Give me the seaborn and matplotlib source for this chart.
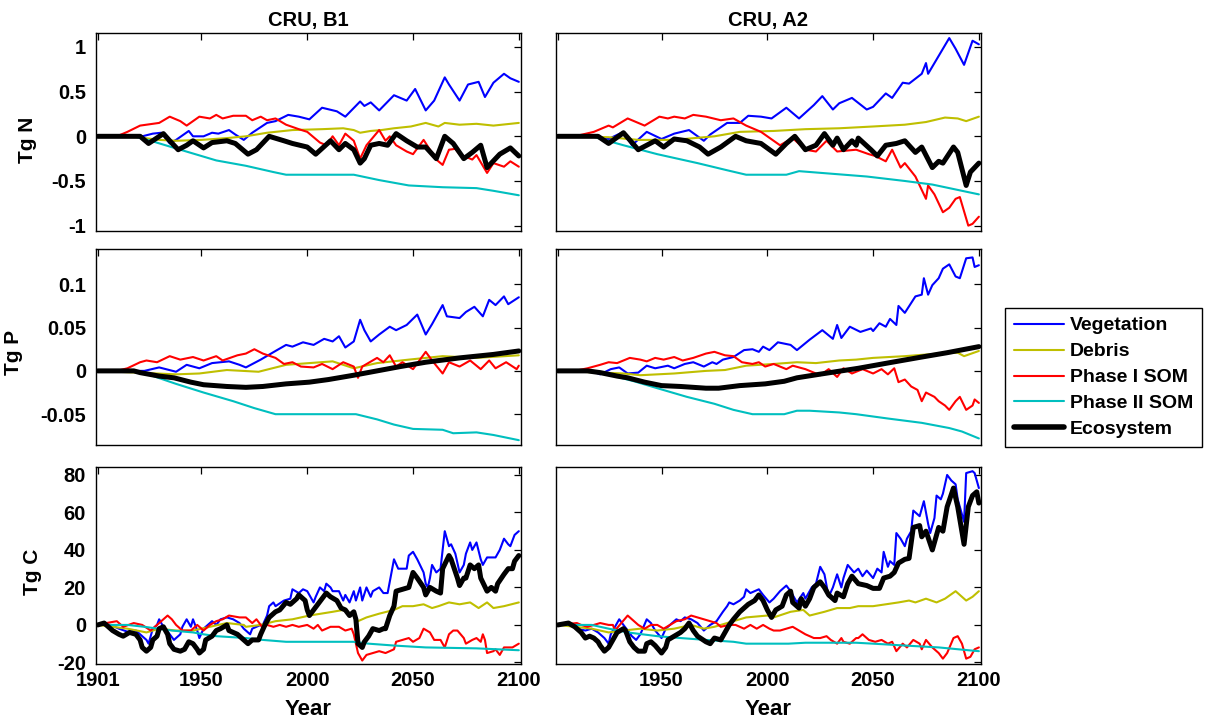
import matplotlib
matplotlib.use("Agg")
import matplotlib.pyplot as plt
import seaborn as sns
from matplotlib.ticker import FixedLocator, FixedFormatter
from matplotlib.lines import Line2D

# ---------------- data ----------------
POOLS = ["Vegetation", "Debris", "Phase I SOM", "Phase II SOM", "Ecosystem"]
COLORS = ["#0000ff", "#bfbf00", "#ff0000", "#00bfbf", "#000000"]
SCENARIOS = ["CRU, B1", "CRU, A2"]
YLABELS = ["Tg N", "Tg P", "Tg C"]
XTICKS = [1901, 1950, 2000, 2050, 2100]

# --- Tg N, B1 ---
NB1_VEG_YR = [1901,1922,1927,1931,1935,1938,1944,1946,1951,1955,1958,1963,1966,1970,1974,1981,1985,1991,1996,2001,2007,2014,2018,2025,2027,2030,2034,2041,2047,2051,2056,2060,2065,2067,2072,2076,2081,2084,2088,2093,2096,2100]
NB1_VEG = [0,0,0.03,0.04,-0.08,-0.04,0.06,0,0,0.04,0.03,0.07,0.02,-0.04,0.04,0.15,0.17,0.24,0.22,0.19,0.32,0.28,0.22,0.39,0.34,0.38,0.29,0.46,0.40,0.53,0.29,0.40,0.66,0.58,0.40,0.58,0.61,0.44,0.60,0.70,0.65,0.61]
NB1_DEB_YR = [1901,1920,1930,1938,1950,1962,1971,1981,1993,2007,2017,2022,2025,2030,2035,2041,2049,2056,2062,2065,2072,2080,2088,2100]
NB1_DEB = [0,-0.01,-0.04,-0.05,-0.04,-0.02,0,0.04,0.07,0.08,0.09,0.07,0.04,0.06,0.07,0.09,0.11,0.15,0.11,0.15,0.13,0.14,0.12,0.15]
NB1_P1_YR = [1901,1910,1915,1921,1930,1935,1940,1943,1949,1954,1957,1960,1965,1971,1974,1978,1981,1985,1990,1996,2000,2006,2009,2012,2015,2018,2022,2025,2028,2034,2037,2039,2042,2047,2050,2055,2061,2064,2067,2070,2072,2078,2080,2085,2088,2093,2096,2100]
NB1_P1 = [0,0,0.05,0.12,0.15,0.22,0.17,0.12,0.22,0.20,0.24,0.20,0.23,0.23,0.18,0.22,0.18,0.20,0.13,0.08,0.05,-0.07,-0.10,0,-0.10,0.03,-0.05,-0.25,-0.10,0.07,-0.05,0,-0.10,-0.17,-0.20,-0.04,-0.26,-0.32,-0.15,-0.14,-0.20,-0.26,-0.21,-0.41,-0.30,-0.34,-0.28,-0.34]
NB1_P2_YR = [1901,1918,1926,1940,1957,1971,1984,1990,2022,2034,2048,2064,2080,2088,2100]
NB1_P2 = [0,0,-0.05,-0.15,-0.27,-0.33,-0.40,-0.43,-0.43,-0.49,-0.55,-0.57,-0.58,-0.61,-0.66]
NB1_ECO_YR = [1901,1921,1925,1932,1935,1939,1943,1946,1951,1955,1962,1966,1972,1976,1982,1989,1993,2000,2004,2011,2015,2018,2022,2025,2027,2030,2034,2038,2042,2047,2052,2056,2061,2065,2069,2074,2078,2082,2085,2091,2096,2100]
NB1_ECO = [0,0,-0.08,0.03,-0.05,-0.15,-0.10,-0.05,-0.13,-0.07,-0.05,-0.08,-0.20,-0.15,0,-0.05,-0.08,-0.12,-0.20,-0.05,-0.15,-0.08,-0.15,-0.30,-0.25,-0.10,-0.08,-0.10,0.03,-0.05,-0.12,-0.12,-0.25,0,-0.08,-0.25,-0.18,-0.10,-0.35,-0.20,-0.13,-0.22]

# --- Tg N, A2 ---
NA2_VEG_YR = [1901,1917,1925,1932,1936,1943,1950,1956,1963,1970,1973,1981,1987,1991,1997,2002,2009,2015,2022,2026,2031,2034,2040,2047,2050,2056,2059,2064,2067,2073,2075,2076,2081,2086,2089,2093,2097,2100]
NA2_VEG = [0,0,-0.03,0.05,-0.10,0.05,-0.03,0.03,0.07,-0.05,0.02,0.15,0.15,0.23,0.22,0.20,0.32,0.20,0.35,0.45,0.30,0.37,0.43,0.30,0.33,0.48,0.43,0.60,0.59,0.70,0.82,0.70,0.90,1.10,0.98,0.80,1.07,1.03]
NA2_DEB_YR = [1901,1925,1939,1956,1975,1987,2003,2018,2034,2050,2065,2075,2084,2090,2094,2100]
NA2_DEB = [0,-0.01,-0.04,-0.04,0,0.05,0.06,0.08,0.09,0.11,0.13,0.16,0.21,0.20,0.17,0.22]
NA2_P1_YR = [1901,1909,1918,1925,1927,1934,1942,1949,1953,1956,1961,1965,1971,1978,1984,1990,1997,2003,2006,2012,2018,2023,2028,2033,2042,2048,2051,2056,2059,2063,2065,2070,2073,2075,2076,2079,2083,2086,2089,2091,2095,2097,2100]
NA2_P1 = [0,0,0.05,0.12,0.10,0.20,0.12,0.22,0.20,0.22,0.20,0.24,0.22,0.18,0.20,0.12,0.05,-0.05,-0.10,-0.02,-0.15,-0.17,-0.05,-0.17,-0.15,-0.20,-0.22,-0.28,-0.15,-0.35,-0.30,-0.45,-0.60,-0.70,-0.55,-0.65,-0.85,-0.80,-0.70,-0.68,-1.00,-0.98,-0.90]
NA2_P2_YR = [1901,1917,1932,1948,1967,1981,1990,2009,2015,2031,2047,2065,2078,2090,2100]
NA2_P2 = [0,0,-0.10,-0.20,-0.30,-0.38,-0.43,-0.43,-0.39,-0.42,-0.45,-0.50,-0.54,-0.60,-0.65]
NA2_ECO_YR = [1901,1920,1925,1932,1939,1943,1947,1951,1956,1962,1968,1972,1978,1985,1990,1997,2004,2009,2013,2018,2023,2027,2031,2033,2036,2040,2042,2043,2049,2052,2056,2061,2065,2070,2073,2078,2081,2083,2088,2090,2094,2096,2100]
NA2_ECO = [0,0,-0.08,0.04,-0.15,-0.10,-0.05,-0.12,-0.03,-0.05,-0.12,-0.20,-0.12,0,-0.05,-0.08,-0.20,-0.08,0,-0.15,-0.10,0.03,-0.10,-0.02,-0.15,-0.05,-0.10,-0.02,-0.15,-0.22,-0.10,-0.08,-0.05,-0.18,-0.12,-0.35,-0.28,-0.30,-0.12,-0.18,-0.55,-0.40,-0.30]

# --- Tg P, B1 ---
PB1_VEG_YR = [1901,1923,1930,1938,1943,1949,1955,1963,1968,1971,1978,1985,1990,1993,1998,2003,2008,2012,2015,2018,2022,2025,2027,2030,2034,2039,2042,2047,2052,2056,2059,2064,2066,2072,2075,2079,2083,2086,2089,2093,2095,2100]
PB1_VEG = [0,0,0.004,-0.001,0.007,0.003,0.009,0.011,0.007,0.004,0.013,0.023,0.030,0.028,0.033,0.030,0.037,0.034,0.040,0.027,0.034,0.059,0.047,0.034,0.042,0.051,0.047,0.053,0.065,0.042,0.054,0.076,0.063,0.061,0.068,0.074,0.063,0.082,0.076,0.086,0.077,0.085]
PB1_DEB_YR = [1901,1938,1949,1962,1977,1990,2001,2012,2022,2033,2048,2064,2080,2100]
PB1_DEB = [0,-0.004,-0.003,0.001,-0.001,0.007,0.009,0.011,0.003,0.009,0.013,0.017,0.015,0.018]
PB1_P1_YR = [1901,1910,1915,1921,1924,1929,1935,1940,1946,1951,1957,1960,1967,1971,1975,1979,1985,1989,1993,1997,2003,2007,2012,2017,2022,2024,2026,2033,2036,2039,2042,2045,2050,2056,2059,2064,2067,2072,2077,2082,2086,2089,2094,2099,2100]
PB1_P1 = [0,0,0.003,0.010,0.012,0.010,0.017,0.013,0.016,0.012,0.017,0.012,0.018,0.020,0.025,0.020,0.015,0.008,0.010,0.005,0.004,0.008,0.002,0.010,0.005,-0.008,0.005,0.015,0.010,0.018,0.005,0.010,0.002,0.022,0.012,-0.003,0.010,0.005,0.012,0.002,0.012,0.003,0.010,0.002,0.006]
PB1_P2_YR = [1901,1918,1926,1938,1951,1965,1975,1985,2023,2033,2041,2050,2064,2069,2080,2088,2100]
PB1_P2 = [0,0,-0.005,-0.015,-0.025,-0.035,-0.043,-0.050,-0.050,-0.056,-0.062,-0.067,-0.068,-0.072,-0.071,-0.074,-0.080]
PB1_ECO_YR = [1901,1918,1921,1930,1937,1945,1951,1962,1971,1979,1990,2001,2010,2022,2033,2044,2056,2072,2088,2100]
PB1_ECO = [0,0,-0.002,-0.006,-0.008,-0.013,-0.016,-0.018,-0.019,-0.018,-0.015,-0.013,-0.010,-0.005,0.000,0.005,0.010,0.015,0.019,0.023]

# --- Tg P, A2 ---
PA2_VEG_YR = [1901,1917,1921,1926,1930,1934,1939,1943,1947,1953,1956,1961,1965,1970,1974,1976,1979,1984,1989,1993,1996,1998,2001,2005,2011,2014,2017,2020,2026,2031,2033,2035,2039,2044,2049,2050,2053,2056,2058,2061,2062,2065,2070,2073,2074,2076,2078,2081,2083,2086,2089,2091,2094,2097,2098,2100]
PA2_VEG = [0,0,-0.004,0.002,0.004,-0.003,-0.002,0.006,0.003,0.006,0.003,0.008,0.010,0.005,0.010,0.008,0.013,0.016,0.024,0.025,0.022,0.028,0.024,0.033,0.030,0.024,0.030,0.036,0.047,0.037,0.053,0.038,0.051,0.045,0.049,0.046,0.055,0.051,0.060,0.053,0.075,0.067,0.086,0.088,0.107,0.088,0.099,0.107,0.118,0.123,0.109,0.107,0.130,0.131,0.120,0.122]
PA2_DEB_YR = [1901,1932,1940,1956,1971,1980,1990,2003,2014,2023,2034,2042,2050,2065,2081,2090,2093,2100]
PA2_DEB = [0,-0.003,-0.005,-0.003,0,0.001,0.006,0.008,0.010,0.009,0.012,0.013,0.015,0.017,0.020,0.021,0.017,0.023]
PA2_P1_YR = [1901,1909,1915,1921,1925,1929,1935,1940,1943,1947,1951,1956,1960,1965,1971,1975,1980,1984,1988,1993,1996,1999,2003,2009,2012,2018,2025,2029,2033,2036,2040,2045,2050,2054,2057,2060,2062,2065,2068,2071,2073,2075,2079,2081,2084,2086,2089,2091,2094,2097,2098,2100]
PA2_P1 = [0,0,0.003,0.007,0.010,0.009,0.015,0.013,0.011,0.015,0.013,0.016,0.012,0.015,0.020,0.022,0.018,0.017,0.010,0.008,0.010,0.005,0.008,0.002,0.006,0.002,-0.005,0.002,-0.007,0.003,-0.003,0.002,-0.003,0.002,-0.004,0.003,-0.013,-0.010,-0.018,-0.022,-0.035,-0.025,-0.030,-0.035,-0.040,-0.045,-0.035,-0.030,-0.045,-0.040,-0.033,-0.037]
PA2_P2_YR = [1901,1918,1926,1937,1948,1962,1975,1984,1993,2008,2014,2020,2034,2042,2057,2073,2086,2092,2100]
PA2_P2 = [0,0,-0.005,-0.012,-0.020,-0.030,-0.038,-0.045,-0.050,-0.050,-0.046,-0.046,-0.048,-0.050,-0.055,-0.060,-0.066,-0.070,-0.078]
PA2_ECO_YR = [1901,1915,1921,1929,1934,1942,1950,1959,1971,1977,1987,1999,2008,2014,2027,2043,2059,2073,2085,2100]
PA2_ECO = [0,0,-0.002,-0.006,-0.008,-0.013,-0.017,-0.018,-0.020,-0.020,-0.017,-0.015,-0.012,-0.008,-0.003,0.003,0.010,0.016,0.021,0.028]

# --- Tg C, B1 ---
CB1_VEG_YR = [1901,1907,1911,1916,1919,1924,1925,1927,1929,1930,1932,1935,1937,1940,1941,1943,1945,1946,1948,1949,1951,1953,1955,1957,1959,1962,1965,1968,1970,1973,1974,1978,1979,1981,1982,1984,1985,1989,1992,1993,1996,1998,2000,2002,2003,2004,2006,2008,2009,2011,2012,2015,2017,2018,2020,2022,2023,2025,2026,2028,2030,2031,2034,2036,2038,2041,2043,2047,2048,2050,2052,2055,2056,2057,2058,2059,2061,2063,2065,2067,2068,2070,2072,2074,2075,2077,2078,2080,2082,2083,2085,2088,2089,2091,2093,2095,2096,2098,2100]
CB1_VEG = [0,0,-2,-4,-3,-8,-10,-2,0,3,-1,-5,-8,-5,-1,3,-1,3,-3,-7,-2,0,2,0,3,4,3,1,-2,-5,-2,0,0,5,10,12,10,13,14,19,17,19,18,14,12,15,20,18,22,20,18,18,13,16,12,18,13,20,13,20,15,18,20,17,17,35,30,30,37,39,35,28,22,20,25,32,28,30,50,42,43,38,28,32,38,44,40,44,35,32,36,36,36,40,46,43,42,48,50]
CB1_DEB_YR = [1901,1915,1924,1930,1938,1946,1954,1962,1970,1971,1978,1985,1993,2001,2012,2017,2022,2024,2028,2034,2041,2045,2050,2055,2059,2062,2067,2072,2077,2081,2085,2088,2093,2100]
CB1_DEB = [0,-2,-4,-2,-3,-3,-1,1,0,-1,0,2,3,5,7,8,5,2,4,6,8,10,10,11,9,10,12,11,12,9,12,9,10,12]
CB1_P1_YR = [1901,1905,1910,1913,1918,1922,1926,1929,1932,1934,1936,1938,1941,1945,1948,1951,1954,1957,1960,1963,1968,1971,1973,1974,1976,1978,1979,1981,1984,1987,1990,1993,1996,2000,2003,2005,2007,2011,2015,2018,2021,2022,2024,2026,2028,2031,2034,2037,2041,2042,2045,2048,2050,2053,2055,2058,2060,2063,2065,2067,2069,2071,2074,2075,2078,2080,2082,2083,2084,2085,2088,2089,2091,2093,2097,2100]
CB1_P1 = [0,1,2,-1,1,0,-3,0,3,5,3,0,-3,-3,0,-3,0,2,3,5,4,4,2,1,3,0,-2,0,-1,0,-1,0,-1,0,-2,0,-3,-1,-1,-3,-2,-5,-15,-19,-16,-15,-14,-15,-13,-9,-8,-7,-9,-7,-2,-4,-8,-8,-12,-5,-3,-3,-7,-10,-8,-7,-9,-5,-8,-15,-14,-13,-16,-12,-12,-10]
CB1_P2_YR = [1901,1915,1923,1936,1946,1951,1957,1971,1979,1990,2022,2029,2041,2056,2080,2100]
CB1_P2 = [0,0,-1,-3,-4,-5,-6,-7,-8,-9,-9,-10,-11,-12,-12.5,-13.5]
CB1_ECO_YR = [1901,1904,1905,1908,1911,1913,1916,1919,1921,1922,1924,1926,1927,1929,1930,1932,1934,1935,1937,1940,1942,1944,1946,1948,1949,1951,1952,1955,1957,1959,1962,1963,1967,1970,1972,1974,1977,1978,1980,1982,1985,1987,1990,1992,1995,1996,1999,2000,2001,2003,2005,2007,2009,2011,2014,2016,2018,2020,2022,2023,2024,2026,2027,2029,2031,2034,2036,2037,2039,2041,2042,2045,2048,2050,2052,2055,2056,2058,2061,2063,2064,2067,2068,2071,2072,2074,2075,2077,2079,2081,2082,2085,2087,2089,2090,2093,2095,2097,2098,2100]
CB1_ECO = [0,1,0,-3,-5,-6,-4,-5,-8,-12,-14,-12,-8,-6,-2,-1,-5,-10,-13,-14,-13,-9,-10,-13,-15,-13,-8,-6,-3,-2,0,-3,-5,-8,-10,-8,-8,-5,0,4,7,8,12,11,14,16,13,8,5,8,11,14,17,15,13,9,8,5,7,3,-10,-12,-9,-6,-2,-3,-2,-2,5,10,18,19,20,28,25,20,16,20,18,17,30,37,35,25,21,25,25,32,30,32,25,18,20,18,22,27,30,30,34,37]

# --- Tg C, A2 ---
CA2_VEG_YR = [1901,1909,1910,1914,1917,1920,1923,1925,1926,1928,1930,1932,1934,1936,1938,1940,1943,1945,1947,1950,1952,1954,1957,1959,1961,1964,1967,1970,1973,1976,1979,1981,1982,1984,1987,1989,1990,1992,1996,1998,2001,2003,2006,2009,2011,2014,2017,2018,2021,2023,2025,2027,2029,2031,2033,2035,2036,2038,2041,2043,2045,2047,2050,2052,2054,2055,2057,2058,2060,2061,2063,2065,2066,2068,2069,2071,2072,2074,2076,2077,2079,2080,2082,2083,2085,2087,2089,2090,2093,2094,2097,2098,2100]
CA2_VEG = [0,0,-2,-3,-2,-4,-7,-10,-5,-1,3,0,-3,-6,-8,-5,3,1,-3,-7,-2,0,3,2,4,3,1,-3,0,2,7,10,12,11,13,15,19,17,19,16,12,14,18,21,18,12,17,14,20,22,31,27,15,20,27,20,25,32,28,30,26,29,25,30,28,39,31,34,32,49,46,42,46,50,61,59,58,66,54,49,57,69,67,70,80,77,75,67,55,81,82,81,73]
CA2_DEB_YR = [1901,1917,1925,1932,1940,1948,1956,1964,1970,1975,1984,1990,2000,2003,2011,2017,2020,2027,2033,2039,2043,2050,2056,2062,2067,2070,2075,2080,2084,2089,2092,2094,2097,2100]
CA2_DEB = [0,-2,-4,-3,-2,-3,-2,0,-2,-1,2,4,5,4,7,8,5,7,9,9,10,10,11,12,13,12,14,12,14,18,15,13,15,18]
CA2_P1_YR = [1901,1910,1912,1915,1918,1921,1925,1927,1928,1931,1934,1936,1939,1942,1945,1948,1951,1954,1957,1961,1964,1967,1970,1973,1976,1978,1982,1985,1989,1992,1995,1998,2001,2003,2006,2012,2015,2018,2022,2025,2028,2030,2033,2035,2036,2039,2042,2043,2045,2048,2051,2054,2057,2059,2061,2064,2066,2069,2072,2073,2075,2078,2081,2083,2085,2088,2090,2092,2094,2096,2098,2100]
CA2_P1 = [0,1,0,-1,0,1,0,0,-3,1,5,3,0,-2,0,0,-2,0,2,3,5,4,3,2,1,-1,0,0,-2,0,-2,0,-2,-3,-3,-1,-3,-5,-7,-7,-6,-8,-10,-7,-9,-10,-7,-7,-5,-8,-9,-8,-10,-9,-14,-10,-12,-8,-10,-13,-8,-12,-15,-18,-15,-7,-6,-10,-18,-17,-13,-12]
CA2_P2_YR = [1901,1917,1925,1934,1948,1959,1971,1984,1990,2010,2018,2042,2050,2065,2081,2095,2100]
CA2_P2 = [0,0,-2,-4,-6,-7,-8,-9,-10,-10,-9.5,-9.5,-10,-11,-12,-13.5,-14]
CA2_ECO_YR = [1901,1906,1909,1912,1914,1916,1918,1920,1921,1923,1925,1927,1929,1932,1933,1935,1937,1939,1942,1943,1945,1947,1950,1952,1953,1956,1959,1961,1963,1965,1967,1971,1973,1975,1978,1980,1982,1984,1987,1989,1991,1994,1996,1998,2000,2002,2004,2007,2009,2011,2012,2015,2016,2018,2020,2022,2025,2027,2029,2032,2033,2036,2038,2040,2043,2047,2050,2053,2055,2058,2060,2062,2065,2067,2069,2072,2073,2075,2078,2081,2083,2085,2088,2090,2093,2095,2097,2099,2100]
CA2_ECO = [0,1,-1,-4,-7,-6,-7,-9,-11,-14,-12,-8,-4,-2,-3,-9,-12,-14,-14,-10,-9,-11,-15,-12,-8,-6,-4,-2,1,-3,-6,-9,-10,-7,-8,-4,0,3,7,9,11,13,16,13,8,4,8,10,16,18,12,9,14,10,14,20,23,20,16,13,17,15,22,26,22,21,19.5,19.5,25,26,28,33,35,35.5,52,53,47,50,40,52,50,63,73,63,43,63,69,71,65]

# ---------------- assemble (from the arrays above) ----------------
PANELS = {
    (0, 0): [(NB1_VEG_YR, NB1_VEG), (NB1_DEB_YR, NB1_DEB), (NB1_P1_YR, NB1_P1), (NB1_P2_YR, NB1_P2), (NB1_ECO_YR, NB1_ECO)],
    (0, 1): [(NA2_VEG_YR, NA2_VEG), (NA2_DEB_YR, NA2_DEB), (NA2_P1_YR, NA2_P1), (NA2_P2_YR, NA2_P2), (NA2_ECO_YR, NA2_ECO)],
    (1, 0): [(PB1_VEG_YR, PB1_VEG), (PB1_DEB_YR, PB1_DEB), (PB1_P1_YR, PB1_P1), (PB1_P2_YR, PB1_P2), (PB1_ECO_YR, PB1_ECO)],
    (1, 1): [(PA2_VEG_YR, PA2_VEG), (PA2_DEB_YR, PA2_DEB), (PA2_P1_YR, PA2_P1), (PA2_P2_YR, PA2_P2), (PA2_ECO_YR, PA2_ECO)],
    (2, 0): [(CB1_VEG_YR, CB1_VEG), (CB1_DEB_YR, CB1_DEB), (CB1_P1_YR, CB1_P1), (CB1_P2_YR, CB1_P2), (CB1_ECO_YR, CB1_ECO)],
    (2, 1): [(CA2_VEG_YR, CA2_VEG), (CA2_DEB_YR, CA2_DEB), (CA2_P1_YR, CA2_P1), (CA2_P2_YR, CA2_P2), (CA2_ECO_YR, CA2_ECO)],
}
YTICKS = [[-1, -0.5, 0, 0.5, 1], [-0.05, 0, 0.05, 0.1], [-20, 0, 20, 40, 60, 80]]
YTICKLABELS = [["-1", "-0.5", "0", "0.5", "1"], ["-0.05", "0", "0.05", "0.1"], ["-20", "0", "20", "40", "60", "80"]]
YLIMS = [(-1.06, 1.157), (-0.085, 0.1404), (-21, 84.4)]
YLABEL_POS = [(-0.138, 0.46), (-0.171, 0.474), (-0.126, 0.467)]

# ---------------- style ----------------
sns.set_style("white")
plt.rcParams["font.family"] = ["Liberation Sans", "DejaVu Sans"]
plt.rcParams["font.weight"] = "bold"
plt.rcParams["axes.unicode_minus"] = False
for key in ["text.color", "axes.labelcolor", "xtick.color", "ytick.color",
            "xtick.labelcolor", "ytick.labelcolor", "axes.edgecolor"]:
    plt.rcParams[key] = "black"

fig = plt.figure(figsize=(12.05, 7.23), dpi=100)

col_x = [0.0794, 0.4612]
col_w = 0.3529
row_y = [0.6805, 0.3852, 0.0812]
row_h = [0.2739, 0.2700, 0.2733]

LW = [1.5, 1.5, 1.5, 1.5, 3.6]

for r in range(3):
    for c in range(2):
        ax = fig.add_axes([col_x[c], row_y[r], col_w, row_h[r]])
        for k, (yrs, vals) in enumerate(PANELS[(r, c)]):
            sns.lineplot(x=yrs, y=vals, ax=ax, color=COLORS[k], linewidth=LW[k],
                         estimator=None, sort=False, legend=False)
        ax.set_xlim(1900, 2101)
        ax.set_ylim(*YLIMS[r])
        ax.yaxis.set_major_locator(FixedLocator(YTICKS[r]))
        ax.yaxis.set_major_formatter(FixedFormatter(YTICKLABELS[r]))
        if r == 2:
            xt = XTICKS if c == 0 else XTICKS[1:]
            ax.xaxis.set_major_locator(FixedLocator(xt))
            ax.xaxis.set_major_formatter(FixedFormatter([str(t) for t in xt]))
            ax.set_xlabel("Year", fontsize=16, fontweight="bold", labelpad=6, color="black")
        else:
            ax.xaxis.set_major_locator(FixedLocator(XTICKS))
            ax.set_xticklabels([])
            ax.set_xlabel("")
        if c == 0:
            ax.set_ylabel(YLABELS[r], fontsize=15, fontweight="bold", color="black")
            ax.yaxis.set_label_coords(*YLABEL_POS[r])
        else:
            ax.set_yticklabels([])
            ax.set_ylabel("")
        if r == 0:
            ax.set_title(SCENARIOS[c], fontsize=14.5, fontweight="bold", pad=5, color="black")
        ax.tick_params(direction="in", top=True, right=True, length=5, width=0.9,
                       labelsize=14.5, pad=5, colors="black")
        ax.tick_params(axis="y", pad=7)
        for sp in ax.spines.values():
            sp.set_visible(True)
            sp.set_color("black")
            sp.set_linewidth(1.0)

handles = [Line2D([0], [0], color=COLORS[k], lw=LW[k] if k < 4 else 4.0) for k in range(5)]
leg = fig.legend(handles, POOLS, loc="upper left", bbox_to_anchor=(1005 / 1205, 1 - 308 / 723),
                 frameon=True, fancybox=False, edgecolor="black", framealpha=1,
                 prop={"size": 14, "weight": "bold"}, handlelength=2.6, handletextpad=0.3,
                 labelspacing=0.43, borderpad=0.45, borderaxespad=0)
leg.get_frame().set_linewidth(1.0)
for t in leg.get_texts():
    t.set_color("black")

fig.savefig("out.png", dpi=100)
